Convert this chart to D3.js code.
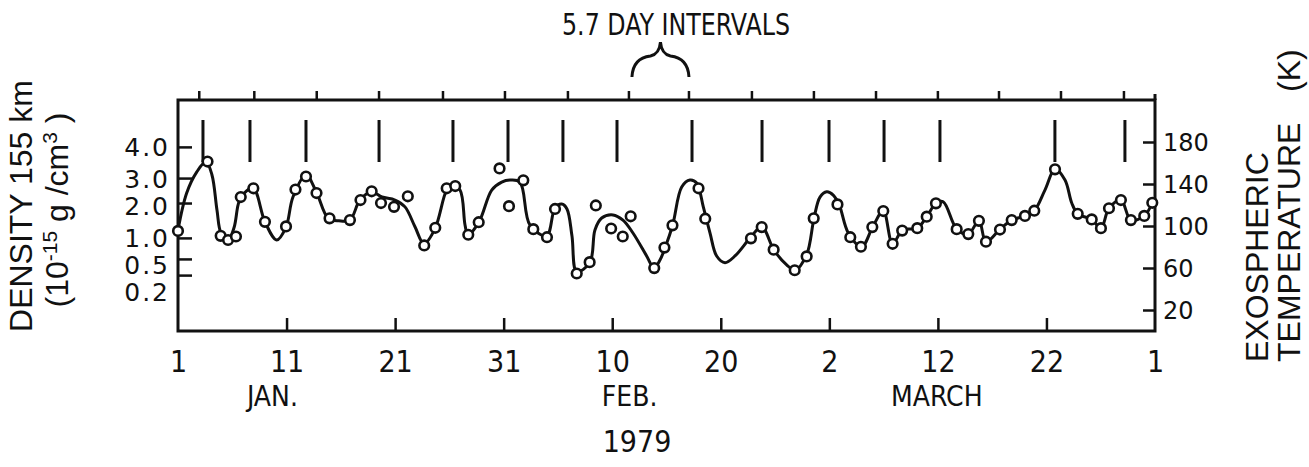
<!DOCTYPE html>
<html><head><meta charset="utf-8">
<script src="https://cdn.jsdelivr.net/npm/d3@7"></script>
<style>html,body{margin:0;padding:0;background:#fff;}</style>
</head><body>
<svg id="c" width="1309" height="467"></svg>
<script>
// ---------------- data ----------------
// observation epochs (days after 1 Jan 1979 00h) and density (1e-15 g/cm^3)
const obsDay = [0.0,2.72,3.93,4.61,5.34,5.78,6.94,8.01,9.95,10.82,
  11.79,12.76,13.96,15.84,16.81,17.84,18.70,19.90,21.17,22.68,
  23.70,24.75,25.54,26.74,27.70,29.62,30.49,31.81,32.73,33.99,
  34.73,36.73,37.92,38.49,39.90,40.97,41.70,43.87,44.81,45.55,
  47.95,48.57,52.78,53.77,54.87,56.81,57.91,58.56,60.75,61.93,
  62.91,63.96,64.97,65.83,66.71,68.10,68.97,69.82,71.73,72.80,
  73.78,74.43,75.72,76.80,78.02,78.88,80.79,82.88,84.17,85.02,
  85.76,86.86,87.78,89.01,89.75];
const obsDensity = [1.20,3.53,1.06,0.95,1.04,2.24,2.59,1.46,1.33,2.54,
  3.05,2.40,1.56,1.51,2.12,2.47,2.00,1.89,2.27,0.82,
  1.29,2.59,2.68,1.09,1.45,3.31,1.91,2.91,1.25,1.02,
  1.83,0.23,0.44,1.93,1.27,1.04,1.62,0.33,0.77,1.36,
  2.59,1.55,0.99,1.31,0.72,0.29,0.56,1.56,1.96,1.02,
  0.79,1.31,1.77,0.86,1.21,1.28,1.61,1.99,1.25,1.11,
  1.49,0.91,1.24,1.51,1.63,1.78,3.28,1.69,1.53,1.28,
  1.85,2.12,1.51,1.63,2.01];
// smooth fitted curve
const fitDay = [0.00,0.80,1.72,2.58,3.13,3.59,3.96,4.61,5.16,5.53,
  5.80,6.91,8.01,9.09,9.95,10.59,11.79,12.78,13.82,14.83,
  15.84,16.76,17.84,18.79,19.99,20.91,21.83,22.66,23.67,24.75,
  25.24,25.98,26.44,26.71,27.73,28.90,29.82,30.58,31.50,32.42,
  33.96,34.73,35.35,35.83,36.29,36.73,37.95,38.41,39.03,40.07,
  40.99,41.91,43.17,43.85,44.40,44.86,45.57,46.40,47.16,47.78,
  48.39,49.01,49.62,50.39,51.31,52.78,53.77,54.90,56.07,56.84,
  57.91,58.59,59.14,59.76,60.36,60.92,61.75,62.98,63.99,64.97,
  65.83,66.76,68.10,68.97,69.82,70.49,71.73,72.80,73.78,74.43,
  75.72,76.80,78.02,78.88,79.86,80.79,81.71,82.33,82.88,84.17,
  85.02,85.76,86.86,87.78,89.01,89.75];
const fitDensity = [1.23,2.40,3.19,3.52,3.10,1.80,1.14,0.95,1.29,1.94,
  2.24,2.60,1.46,0.95,1.31,2.24,3.10,2.40,1.57,1.49,
  1.51,2.12,2.44,2.24,2.12,1.89,1.32,0.86,1.26,2.52,
  2.72,2.52,1.37,1.09,1.46,2.52,2.84,2.92,2.84,1.37,
  1.06,1.86,1.97,1.83,1.06,0.26,0.44,1.23,1.57,1.66,
  1.51,1.14,0.57,0.33,0.48,0.76,1.37,2.64,2.92,2.80,
  1.89,1.14,0.57,0.43,0.57,1.03,1.32,0.71,0.39,0.29,
  0.60,1.57,2.24,2.45,2.32,1.94,1.14,0.79,1.31,1.78,
  0.86,1.23,1.28,1.61,1.99,2.05,1.26,1.11,1.49,0.91,
  1.25,1.51,1.63,1.78,2.52,3.28,2.92,2.00,1.69,1.53,
  1.28,1.85,2.12,1.51,1.63,2.01];
// density peaks marked by vertical bars
const intervalDays = [2.30,6.63,11.79,18.52,25.33,30.40,35.46,40.44,47.35,53.80,59.97,65.04,70.19,80.78,87.23];
// 5.7-day interval ticks on top axis
const topTickDays = [1.96,7.03,12.78,18.52,24.41,30.12,35.92,41.54,47.07,52.87,58.58,64.30,70.00,75.63,81.34,87.14];
const dayTickValues = [0,10,20,30,40,50,60,70,80,90];
const dayTickLabels = ["1","11","21","31","10","20","2","12","22","1"];
const monthNames = ["JAN.","FEB.","MARCH"];
const monthDays = [8.7,41.6,69.9];
const yearLabel = "1979";
const densityTicks = [4.0,3.0,2.0,1.0,0.5,0.2];
const densityTickLabels = ["4.0","3.0","2.0","1.0","0.5","0.2"];
const tempTicks = [180,140,100,60,20];

// ---------------- layout ----------------
const svg = d3.select("#c");
const m = {left:178, right:1155, top:100, bottom:331};
const ph = m.bottom - m.top;
const INK = "#111";
const NARROW = "'Liberation Sans Narrow','DejaVu Sans Condensed','Liberation Sans',sans-serif";
const REG = "'Liberation Sans',Arial,sans-serif";
const DJ = "'DejaVu Sans',sans-serif";

const x = d3.scaleLinear().domain([0,90]).range([m.left, m.right]);
// non-uniform density axis (as drawn in the figure): fraction of plot height for each tick
const densFrac = [0.242,0.312,0.403,0.554,0.662,0.797];
const yDen = d3.scaleLinear()
  .domain(densityTicks.slice().reverse())
  .range(densFrac.map(f => m.bottom - f*ph));
const yTemp = d3.scaleLinear().domain([0,220]).range([m.bottom, m.top]);

// frame
svg.append("rect").attr("x",m.left).attr("y",m.top)
  .attr("width",m.right-m.left).attr("height",ph)
  .attr("fill","none").attr("stroke",INK).attr("stroke-width",3);
svg.append("line").attr("x1",m.right).attr("x2",m.right)
  .attr("y1",m.top-6).attr("y2",m.top).attr("stroke",INK).attr("stroke-width",3);

// top 5.7-day ticks
svg.append("g").selectAll("line").data(topTickDays).join("line")
  .attr("x1",d=>x(d)).attr("x2",d=>x(d))
  .attr("y1",m.top).attr("y2",m.top-9)
  .attr("stroke",INK).attr("stroke-width",2.5);

// bottom axis (ticks inward)
const bottomAxis = d3.axisBottom(x).tickValues(dayTickValues)
  .tickFormat((d,i)=>dayTickLabels[i]).tickSizeInner(-13).tickSizeOuter(0).tickPadding(0);
const gb = svg.append("g").attr("transform",`translate(0,${m.bottom})`).call(bottomAxis);
gb.select(".domain").remove();
gb.selectAll(".tick line").attr("stroke",INK).attr("stroke-width",2.5)
  .attr("display",(d,i)=> (i===0||i===dayTickValues.length-1)?"none":null);
gb.selectAll(".tick text").attr("fill",INK).attr("font-family",NARROW)
  .attr("font-size",30).attr("dy",null).attr("y",41);

// left density axis (ticks inward)
const leftAxis = d3.axisLeft(yDen).tickValues(densityTicks)
  .tickFormat((d,i)=>densityTickLabels[i]).tickSizeInner(-14).tickSizeOuter(0).tickPadding(8);
const gl = svg.append("g").attr("transform",`translate(${m.left},0)`).call(leftAxis);
gl.select(".domain").remove();
gl.selectAll(".tick line").attr("stroke",INK).attr("stroke-width",2.5);
// stack labels so they do not collide
let prevY = -1e9;
gl.selectAll(".tick text").each(function(d){
  const ty = yDen(d);
  const ly = Math.max(ty, prevY + 27);
  prevY = ly;
  d3.select(this).attr("y", ly - ty);
}).attr("fill",INK).attr("font-family",DJ).attr("font-size",25)
  .attr("letter-spacing",2).attr("dy","0.36em");

// right temperature axis (ticks inward)
const rightAxis = d3.axisRight(yTemp).tickValues(tempTicks)
  .tickSizeInner(-12).tickSizeOuter(0).tickPadding(8);
const gr = svg.append("g").attr("transform",`translate(${m.right},0)`).call(rightAxis);
gr.select(".domain").remove();
gr.selectAll(".tick line").attr("stroke",INK).attr("stroke-width",2.5);
gr.selectAll(".tick text").attr("fill",INK).attr("font-family",DJ).attr("font-size",24)
  .attr("dy","0.36em");

// interval bars
svg.append("g").selectAll("line").data(intervalDays).join("line")
  .attr("x1",d=>x(d)).attr("x2",d=>x(d))
  .attr("y1",m.top+20).attr("y2",m.top+62)
  .attr("stroke",INK).attr("stroke-width",3);

// fitted curve
const fit = fitDay.map((d,i)=>[d, fitDensity[i]]);
svg.append("path").datum(fit)
  .attr("d", d3.line().x(d=>x(d[0])).y(d=>yDen(d[1])).curve(d3.curveCatmullRom.alpha(0.5)))
  .attr("fill","none").attr("stroke",INK).attr("stroke-width",3).attr("stroke-linejoin","round");

// observations
const obs = obsDay.map((d,i)=>[d, obsDensity[i]]);
svg.append("g").selectAll("circle").data(obs).join("circle")
  .attr("cx",d=>x(d[0])).attr("cy",d=>yDen(d[1])).attr("r",4.8)
  .attr("fill","#fff").attr("stroke",INK).attr("stroke-width",2.6);

// title + brace
svg.append("text").attr("x",676).attr("y",35).attr("text-anchor","middle")
  .attr("font-family",NARROW).attr("font-size",30).attr("fill",INK)
  .attr("textLength",228).attr("lengthAdjust","spacingAndGlyphs").text("5.7 DAY INTERVALS");
const bx0 = x(topTickDays[7]) + 3, bx1 = x(topTickDays[8]), bm = (bx0+bx1)/2;
svg.append("path")
  .attr("d",`M${bx0},77 Q${bx0+1},58 ${bm-10},56 Q${bm-1},54 ${bm},42 Q${bm+1},54 ${bm+10},56 Q${bx1-1},58 ${bx1},77`)
  .attr("fill","none").attr("stroke",INK).attr("stroke-width",3);

// month labels and year
svg.append("g").selectAll("text").data(monthNames).join("text")
  .attr("x",(d,i)=>x(monthDays[i])).attr("y",406).attr("text-anchor","middle")
  .attr("font-family",NARROW).attr("font-size",28).attr("fill",INK).text(d=>d);
svg.append("text").attr("x",637).attr("y",452).attr("text-anchor","middle")
  .attr("font-family",NARROW).attr("font-size",30).attr("fill",INK).text(yearLabel);

// left axis titles
svg.append("text").attr("transform","translate(32,206) rotate(-90)").attr("text-anchor","middle")
  .attr("font-family",REG).attr("font-size",32).attr("fill",INK).text("DENSITY 155 km");
const t2 = svg.append("text").attr("transform","translate(68,210) rotate(-90)").attr("text-anchor","middle")
  .attr("font-family",REG).attr("font-size",32).attr("fill",INK);
t2.append("tspan").text("(10");
t2.append("tspan").attr("dy",-11).attr("font-size",21).text("-15");
t2.append("tspan").attr("dy",11).text(" g /cm");
t2.append("tspan").attr("dy",-11).attr("font-size",21).text("3");
t2.append("tspan").attr("dy",11).text(" )");

// right axis titles
svg.append("text").attr("transform","translate(1268,362) rotate(-90)").attr("text-anchor","start")
  .attr("font-family",REG).attr("font-size",32).attr("fill",INK).text("EXOSPHERIC");
svg.append("text").attr("transform","translate(1300,362) rotate(-90)").attr("text-anchor","start")
  .attr("font-family",REG).attr("font-size",32).attr("fill",INK).text("TEMPERATURE");
svg.append("text").attr("transform","translate(1300,92) rotate(-90)").attr("text-anchor","start")
  .attr("font-family",REG).attr("font-size",32).attr("fill",INK).text("(K)");
</script>
</body></html>
